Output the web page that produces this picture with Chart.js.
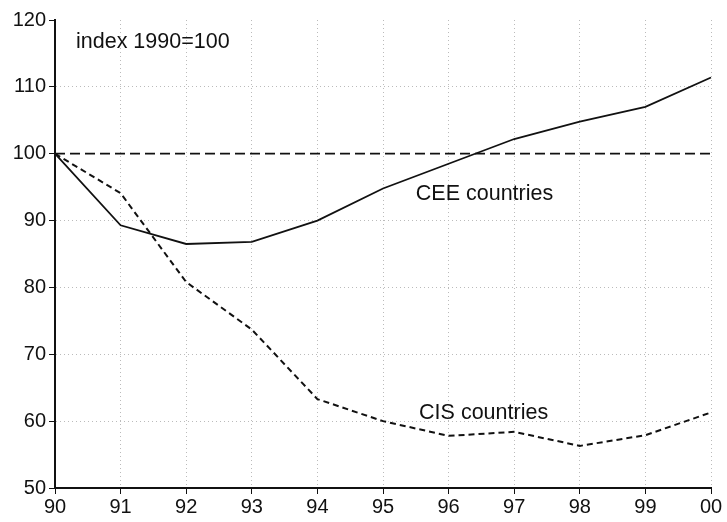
<!DOCTYPE html>
<html>
<head>
<meta charset="utf-8">
<script src="https://cdn.jsdelivr.net/npm/chart.js@4/dist/chart.umd.min.js"></script>
<style>
html,body{margin:0;padding:0;background:#fff;}
#wrap{width:727px;height:522px;position:relative;}
</style>
</head>
<body>
<div id="wrap"><canvas id="c" width="727" height="522"></canvas></div>
<script>
const years = ['90','91','92','93','94','95','96','97','98','99','00'];
const ceeValues = [100, 89.3, 86.5, 86.8, 90.0, 94.8, 98.5, 102.2, 104.8, 107.0, 111.4];
const cisValues = [100, 94.1, 80.8, 73.7, 63.3, 60.0, 57.8, 58.4, 56.3, 57.9, 61.3];
const yTicks = [50, 60, 70, 80, 90, 100, 110, 120];
const referenceValue = 100;
const annotations = [
  {text: 'index 1990=100', x: 0.32, y: 116.7, align: 'left'},
  {text: 'CEE countries', x: 5.5, y: 94.0, align: 'left'},
  {text: 'CIS countries', x: 5.55, y: 61.2, align: 'left'}
];

const FONT = '"Liberation Sans", Arial, sans-serif';
const FSIZE = 20;
const ASIZE = 21.5;

const overlay = {
  id: 'overlay',
  beforeDatasetsDraw(chart) {
    const {ctx, chartArea, scales} = chart;
    const y = scales.y.getPixelForValue(referenceValue);
    ctx.save();
    ctx.strokeStyle = '#111';
    ctx.lineWidth = 1.7;
    ctx.setLineDash([10, 5]);
    ctx.beginPath();
    ctx.moveTo(chartArea.left, y);
    ctx.lineTo(chartArea.right, y);
    ctx.stroke();
    ctx.restore();
  },
  afterDatasetsDraw(chart) {
    const {ctx, scales} = chart;
    ctx.save();
    ctx.fillStyle = '#111';
    ctx.font = ASIZE + 'px ' + FONT;
    ctx.textBaseline = 'middle';
    annotations.forEach(a => {
      ctx.textAlign = a.align;
      ctx.fillText(a.text, scales.x.getPixelForValue(a.x), scales.y.getPixelForValue(a.y));
    });
    ctx.restore();
  }
};

new Chart(document.getElementById('c'), {
  type: 'line',
  data: {
    labels: years,
    datasets: [
      {label: 'CEE countries', data: ceeValues, borderColor: '#111', borderWidth: 1.8, pointRadius: 0, tension: 0, fill: false},
      {label: 'CIS countries', data: cisValues, borderColor: '#111', borderWidth: 2, borderDash: [6, 4], pointRadius: 0, tension: 0, fill: false}
    ]
  },
  options: {
    responsive: false,
    animation: false,
    devicePixelRatio: 1,
    layout: {padding: {left: 0, right: 16, top: 20, bottom: 0}},
    plugins: {legend: {display: false}, tooltip: {enabled: false}},
    scales: {
      x: {
        type: 'category',
        offset: false,
        afterFit(s) { s.height = 34; },
        grid: {
          color: ctx => (ctx.index === 0 ? 'rgba(0,0,0,0)' : '#bbb'),
          lineWidth: 1,
          tickLength: 6,
          tickColor: '#111',
          drawTicks: true
        },
        border: {display: true, color: '#111', width: 2, dash: [1, 3]},
        ticks: {color: '#111', font: {family: FONT, size: FSIZE}, padding: 1, maxRotation: 0, autoSkip: false}
      },
      y: {
        min: 50,
        max: 120,
        afterFit(s) { s.width = 55; },
        afterBuildTicks(s) { s.ticks = yTicks.map(v => ({value: v})); },
        grid: {
          color: ctx => {
            const v = ctx.tick && ctx.tick.value;
            return (v === referenceValue || v === 120 || v === 50) ? 'rgba(0,0,0,0)' : '#bbb';
          },
          lineWidth: 1,
          tickLength: 6,
          tickColor: '#111',
          drawTicks: true
        },
        border: {display: true, color: '#111', width: 2, dash: [1, 3]},
        ticks: {color: '#111', font: {family: FONT, size: FSIZE}, padding: 3}
      }
    }
  },
  plugins: [overlay]
});
</script>
</body>
</html>
